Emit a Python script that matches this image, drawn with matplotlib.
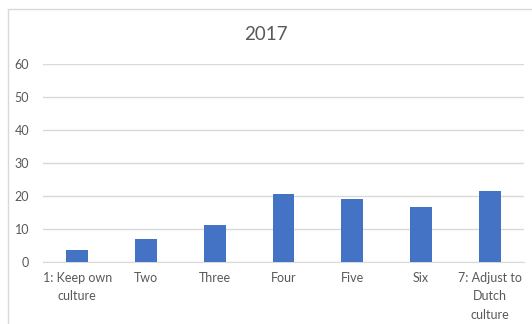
import matplotlib.pyplot as plt
from matplotlib.patches import Rectangle

# Antwoorden per schaalpunt (percentage), 2017
categories = ["1: Keep own\nculture", "Two", "Three", "Four", "Five", "Six",
              "7: Adjust to\nDutch\nculture"]
values = [3.5, 7.0, 11.3, 20.7, 19.0, 16.7, 21.4]
yticks = [0, 10, 20, 30, 40, 50, 60]

plt.rcParams['font.family'] = ['Lato', 'DejaVu Sans']
text_color = '#595959'
grid_color = '#d9d9d9'

fig = plt.figure(figsize=(5.32, 3.24), dpi=100)
fig.patch.set_facecolor('white')

# chart frame (cut off at right and bottom)
fig.add_artist(Rectangle((8 / 532, -0.1), 1.2, (324 - 9) / 324 + 0.1,
                         transform=fig.transFigure, fill=False,
                         edgecolor=grid_color, linewidth=1))

ax = fig.add_axes([43 / 532, 62 / 324, (524 - 43) / 532, (262 - 64) / 324])
x = range(len(categories))
ax.bar(x, values, width=0.32, color='#4472C4', zorder=3)

ax.set_xlim(-0.5, len(categories) - 0.5)
ax.set_ylim(0, 60)
ax.set_yticks(yticks)
ax.set_xticks(list(x))
ax.set_xticklabels(categories, linespacing=1.65)
ax.grid(axis='y', color=grid_color, linewidth=1, zorder=0)
for side in ['top', 'right', 'left']:
    ax.spines[side].set_visible(False)
ax.spines['bottom'].set_color(grid_color)
ax.tick_params(axis='both', length=0, colors=text_color, labelsize=9)
ax.tick_params(axis='y', pad=10)
ax.tick_params(axis='x', pad=7)

fig.text(266 / 532, 1 - 35 / 324, "2017", ha='center', va='center',
         fontsize=13.5, color=text_color)

plt.savefig('out.png', dpi=100)
